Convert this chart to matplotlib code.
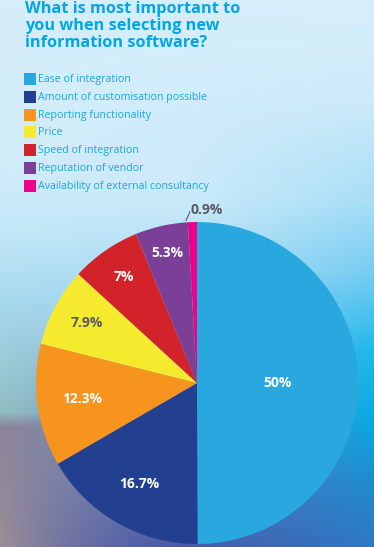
import matplotlib
matplotlib.use("Agg")
import matplotlib.pyplot as plt
import numpy as np
from matplotlib.colors import to_rgb
from matplotlib.patches import Rectangle


TITLE = "What is most important to\nyou when selecting new\ninformation software?"

CATEGORIES = [
    "Ease of integration",
    "Amount of customisation possible",
    "Reporting functionality",
    "Price",
    "Speed of integration",
    "Reputation of vendor",
    "Availability of external consultancy",
]
VALUES = [50, 16.7, 12.3, 7.9, 7, 5.3, 0.9]
VALUE_LABELS = ["50%", "16.7%", "12.3%", "7.9%", "7%", "5.3%", "0.9%"]
COLORS = ["#29a8e0", "#233f8f", "#f7941e", "#f5ea2e", "#d2232a", "#7c3f98", "#ec008c"]

# label colour and radial position (fraction of radius) per slice
LABEL_COLORS = ["white", "white", "white", "#5a5a66", "white", "white", "#5a5a66"]
LABEL_RADII = [0.5, 0.72, 0.72, 0.78, 0.8, 0.83, None]

W, H = 374, 547
FONT = "Open Sans"


def background() -> np.ndarray:
    # vertical colour stops for left, middle and right edge of the page
    left = [(0, "#d6eefb"), (150, "#d4edfa"), (230, "#c4e8f8"), (300, "#a8d8ec"),
            (380, "#98c8d0"), (412, "#92bec2"), (426, "#8e8498"), (547, "#9a8e98")]
    mid = [(0, "#d6eefb"), (200, "#cbeaf9"), (300, "#a0d8f0"), (420, "#7090c0"),
           (547, "#4a5aa8")]
    right = [(0, "#d8effb"), (100, "#cdeaf9"), (200, "#a8def6"), (270, "#78cdf2"),
             (350, "#20b8ec"), (420, "#0aa8e2"), (480, "#1e8cd0"), (547, "#2d78c4")]

    ys = np.arange(H)

    def column(stops):
        pos = [s[0] for s in stops]
        cols = np.array([to_rgb(s[1]) for s in stops])
        return np.stack([np.interp(ys, pos, cols[:, c]) for c in range(3)], axis=1)

    cl, cm, cr = column(left), column(mid), column(right)
    xs = np.linspace(0, 1, W)
    img = np.zeros((H, W, 3))
    a = np.clip(1 - 2 * xs, 0, 1) ** 1.6
    b = np.clip(2 * xs - 1, 0, 1)
    m = 1 - a - b
    for c in range(3):
        img[:, :, c] = (np.outer(cl[:, c], a) + np.outer(cm[:, c], m)
                        + np.outer(cr[:, c], b))
    return img


fig = plt.figure(figsize=(W / 100, H / 100), dpi=100)

bg = fig.add_axes([0, 0, 1, 1])
bg.imshow(background(), aspect="auto", extent=[0, W, H, 0])
bg.set_xlim(0, W)
bg.set_ylim(H, 0)
bg.axis("off")

# title
bg.text(25, 1, TITLE, color="#00a6e6", fontsize=11.7, fontweight="bold",
        family=FONT, va="top", ha="left", linespacing=1.1)

# legend
for i, (name, col) in enumerate(zip(CATEGORIES, COLORS)):
    yc = 79 + i * 17.8
    bg.add_patch(Rectangle((24, yc - 6), 12, 12, color=col, lw=0))
    bg.text(38.5, yc + 0.5, name, color="#1ba6e0", fontsize=7.65,
            family=FONT, va="center", ha="left")

# pie: centre (197, 383) px, radius 161 px
cx, cy, r = 197, 383, 161
ax = fig.add_axes([(cx - r) / W, (H - cy - r) / H, 2 * r / W, 2 * r / H])
wedges, _ = ax.pie(VALUES, colors=COLORS, startangle=90, counterclock=False,
                   radius=1, wedgeprops=dict(linewidth=0))
ax.set_xlim(-1, 1)
ax.set_ylim(-1, 1)
ax.axis("off")

for w, lab, col, rad in zip(wedges, VALUE_LABELS, LABEL_COLORS, LABEL_RADII):
    ang = np.deg2rad((w.theta1 + w.theta2) / 2)
    if rad is None:
        x0, y0 = np.cos(ang) * 1.01, np.sin(ang) * 1.01
        ax.plot([x0 - 0.04, x0 - 0.015], [y0, y0 + 0.055], color=col, lw=0.8,
                clip_on=False)
        ax.text(x0 - 0.01, y0 + 0.065, lab, color=col, fontsize=10,
                fontweight="bold", family=FONT, ha="left", va="center")
        continue
    ax.text(np.cos(ang) * rad, np.sin(ang) * rad, lab, color=col, fontsize=10,
            fontweight="bold", family=FONT, ha="center", va="center")

fig.savefig("out.png", dpi=100)
